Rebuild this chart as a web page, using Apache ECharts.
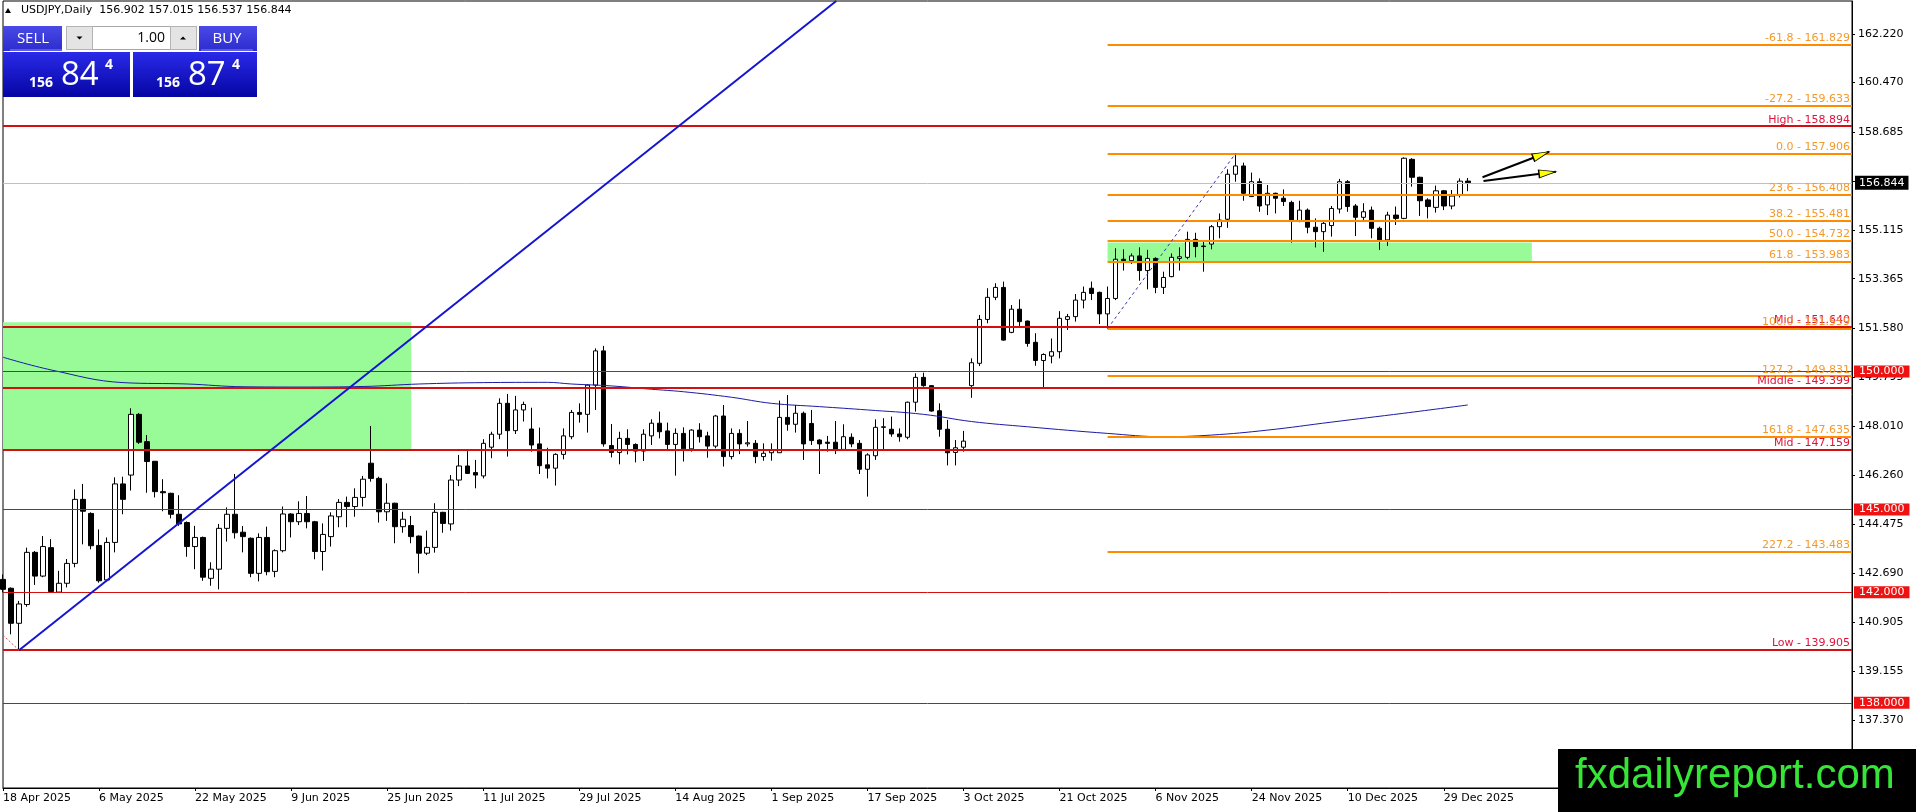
<!DOCTYPE html>
<html>
<head>
<meta charset="utf-8">
<title>USDJPY Daily</title>
<script src="https://cdn.jsdelivr.net/npm/echarts@6/dist/echarts.min.js"></script>
<style>
  html, body { margin: 0; padding: 0; background: #fff; }
  #chart { width: 1916px; height: 812px; }
</style>
</head>
<body>
<div id="chart"></div>
<script>
// daily bars, first bar = 18 Apr 2025 (12 bars per row)
const open = [
  142.47, 142.15, 140.88, 141.56, 143.45, 142.59, 143.62, 142.01, 142.33, 143.05, 145.37, 144.86,
  143.70, 142.45, 143.81, 145.93, 146.25, 148.45, 147.46, 146.75, 145.65, 145.59, 144.83, 144.53,
  143.66, 143.99, 142.51, 142.84, 144.32, 144.83, 144.18, 143.96, 142.69, 143.99, 142.76, 143.51,
  144.84, 144.56, 144.86, 144.56, 143.48, 144.02, 144.74, 145.26, 145.11, 145.44, 146.68, 146.13,
  144.92, 145.23, 144.38, 144.42, 144.04, 143.42, 143.63, 144.90, 144.48, 146.07, 146.58, 146.34,
  146.22, 147.26, 147.73, 148.85, 147.86, 148.61, 147.92, 147.38, 146.62, 146.50, 147.00, 147.64,
  148.52, 148.45, 149.51, 150.75, 147.32, 147.07, 147.58, 147.36, 147.12, 147.67, 148.13, 147.85,
  147.36, 147.76, 147.20, 147.88, 147.67, 147.30, 148.39, 146.92, 147.76, 147.38, 147.40, 146.92,
  147.06, 147.06, 148.34, 148.09, 148.49, 148.12, 147.52, 147.44, 147.44, 147.18, 147.62, 147.40,
  146.46, 146.95, 147.98, 147.91, 147.74, 147.62, 148.89, 149.79, 149.49, 148.58, 147.91, 147.07,
  147.26, 149.49, 150.30, 151.89, 152.69, 153.05, 151.42, 152.26, 151.83, 151.06, 150.40, 150.56,
  150.72, 151.89, 151.99, 152.59, 153.02, 152.87, 152.09, 152.65, 154.07, 154.02, 154.19, 153.66,
  154.10, 153.05, 153.44, 154.10, 154.14, 154.79, 154.53, 154.62, 155.25, 155.52, 157.15, 157.45,
  156.34, 156.88, 156.04, 156.46, 156.28, 156.13, 155.46, 155.85, 155.23, 155.07, 155.29, 155.89,
  156.88, 156.00, 155.59, 155.85, 155.19, 154.77, 155.67, 155.55, 157.69, 157.04, 156.22, 155.95,
  156.55, 156.00, 156.40, 156.902
];
const high = [
  142.65, 142.18, 141.69, 143.62, 143.50, 144.04, 143.93, 142.78, 143.21, 145.73, 145.93, 144.90,
  144.28, 143.99, 146.17, 146.19, 148.67, 148.50, 147.70, 146.76, 146.10, 145.61, 145.52, 144.57,
  144.41, 144.02, 143.09, 144.48, 145.08, 146.29, 144.40, 143.99, 144.14, 144.38, 143.56, 145.11,
  144.87, 145.30, 145.49, 144.59, 144.50, 144.90, 145.38, 145.47, 145.77, 146.22, 148.03, 146.19,
  145.95, 145.25, 144.92, 144.77, 144.06, 144.24, 145.23, 144.92, 146.25, 146.98, 147.13, 146.80,
  147.55, 147.82, 149.03, 149.19, 149.12, 148.91, 148.69, 147.97, 147.24, 147.04, 147.94, 148.61,
  148.85, 149.54, 150.84, 150.93, 148.10, 147.82, 147.91, 147.40, 147.91, 148.27, 148.55, 148.15,
  147.94, 147.98, 147.91, 148.13, 147.82, 148.43, 148.79, 147.94, 147.91, 148.21, 147.52, 147.40,
  147.40, 148.95, 149.15, 148.79, 148.55, 148.61, 147.55, 147.67, 148.21, 148.09, 147.76, 147.52,
  147.04, 148.27, 148.31, 148.37, 147.94, 148.91, 149.94, 149.96, 149.51, 148.85, 148.25, 147.52,
  147.85, 150.48, 152.05, 153.02, 153.20, 153.26, 152.41, 152.62, 151.85, 151.39, 150.66, 151.20,
  152.19, 152.09, 152.81, 153.08, 153.26, 152.90, 153.08, 154.47, 154.43, 154.28, 154.50, 154.41,
  154.14, 153.62, 154.28, 154.50, 155.07, 155.03, 154.71, 155.31, 155.73, 157.33, 157.906, 157.57,
  157.21, 157.00, 156.76, 156.48, 156.60, 156.19, 156.19, 155.91, 155.55, 155.43, 156.00, 156.98,
  156.94, 156.07, 156.10, 155.98, 155.25, 155.79, 155.98, 157.76, 157.73, 157.06, 156.28, 156.74,
  156.58, 156.58, 157.00, 157.015
];
const low = [
  142.00, 140.48, 139.905, 141.48, 142.27, 142.55, 141.99, 141.99, 142.18, 142.91, 143.74, 143.56,
  142.35, 142.39, 143.45, 144.83, 145.69, 147.38, 145.61, 145.44, 144.94, 144.68, 144.41, 143.29,
  142.84, 142.42, 142.24, 142.11, 143.84, 143.95, 143.45, 142.55, 142.40, 142.62, 142.55, 143.45,
  143.99, 144.44, 144.32, 143.20, 142.79, 143.66, 144.36, 144.36, 144.74, 145.11, 146.01, 144.53,
  144.59, 143.78, 144.16, 143.78, 142.69, 143.35, 143.44, 144.16, 144.24, 145.85, 146.29, 145.77,
  146.13, 146.86, 147.55, 146.92, 147.74, 148.19, 147.10, 146.29, 146.13, 145.87, 146.82, 147.55,
  148.15, 147.79, 148.61, 147.28, 146.89, 146.64, 147.00, 146.71, 146.76, 147.34, 147.58, 147.12,
  146.23, 146.74, 147.10, 147.43, 146.88, 147.22, 146.56, 146.82, 147.01, 147.28, 146.68, 146.77,
  146.77, 147.06, 147.86, 147.79, 146.80, 147.34, 146.29, 147.10, 147.01, 147.16, 147.26, 146.29,
  145.47, 146.80, 147.18, 147.64, 147.46, 147.55, 148.55, 149.45, 148.55, 147.64, 146.60, 146.60,
  147.10, 149.05, 150.20, 151.75, 152.59, 151.12, 151.39, 151.63, 150.90, 150.21, 149.43, 150.30,
  150.48, 151.51, 151.81, 152.29, 152.59, 151.72, 151.559, 152.59, 153.66, 153.90, 153.29, 152.98,
  152.84, 152.81, 153.42, 153.66, 154.07, 154.14, 153.62, 154.43, 154.83, 155.21, 156.88, 156.19,
  156.33, 155.79, 155.67, 155.73, 156.00, 154.67, 155.41, 155.01, 154.50, 154.34, 154.89, 155.73,
  155.79, 154.91, 155.46, 154.83, 154.41, 154.55, 155.31, 155.52, 156.70, 155.64, 155.55, 155.76,
  155.85, 155.88, 156.31, 156.537
];
const close = [
  142.11, 140.88, 141.58, 143.45, 142.59, 143.66, 142.03, 142.33, 143.05, 145.37, 144.94, 143.69,
  142.42, 143.81, 145.93, 145.37, 148.45, 147.44, 146.74, 145.65, 145.61, 144.83, 144.48, 143.66,
  143.99, 142.55, 142.84, 144.32, 144.83, 144.16, 144.02, 142.69, 143.99, 142.75, 143.51, 144.84,
  144.56, 144.86, 144.56, 143.48, 144.10, 144.77, 145.26, 145.11, 145.44, 146.10, 146.13, 144.92,
  145.23, 144.38, 144.65, 144.02, 143.42, 143.63, 144.90, 144.50, 146.07, 146.58, 146.31, 146.25,
  147.40, 147.73, 148.85, 147.86, 148.61, 148.81, 147.34, 146.59, 146.50, 147.00, 147.67, 148.52,
  148.45, 149.51, 150.75, 147.38, 147.07, 147.58, 147.36, 147.12, 147.73, 148.13, 147.82, 147.36,
  147.76, 147.20, 147.88, 147.64, 147.30, 148.39, 146.92, 147.76, 147.38, 147.42, 146.92, 147.04,
  147.16, 148.34, 148.09, 148.49, 147.38, 147.50, 147.38, 147.40, 147.18, 147.64, 147.38, 146.46,
  146.98, 147.98, 148.00, 147.74, 147.64, 148.89, 149.79, 149.49, 148.57, 147.91, 147.06, 147.24,
  147.48, 150.32, 151.89, 152.69, 153.05, 151.14, 152.26, 151.81, 151.02, 150.40, 150.62, 150.72,
  151.93, 151.99, 152.59, 152.87, 152.83, 152.09, 152.65, 154.07, 154.02, 154.19, 153.66, 154.10,
  153.05, 153.41, 154.14, 154.16, 154.79, 154.53, 154.55, 155.25, 155.49, 157.15, 157.45, 156.46,
  156.88, 156.00, 156.46, 156.28, 156.16, 155.47, 155.85, 155.23, 155.07, 155.37, 155.91, 156.88,
  155.98, 155.59, 155.79, 155.19, 154.77, 155.67, 155.55, 157.73, 157.04, 156.19, 155.98, 156.55,
  156.00, 156.36, 156.90, 156.844
];

// moving average (bar index -> price)
const maIdx = [0, 6, 15, 23, 30, 37, 45, 52, 60, 68, 71, 76, 81, 85, 91, 96, 102, 108, 115, 121, 128, 138, 145, 151, 158, 166, 175, 183];
const maVal = [150.52, 150.06, 149.60, 149.55, 149.45, 149.44, 149.46, 149.55, 149.60, 149.61, 149.55, 149.48, 149.36, 149.27, 149.07,
  148.85, 148.73, 148.61, 148.45, 148.19, 148.00, 147.76, 147.64, 147.70, 147.88, 148.17, 148.49, 148.79];

const startDate = '2025-04-18';
const holidays = ['2025-12-25', '2026-01-01'];
const slotCount = 232;   // bar slots across the plot, the right part is empty space

const yTicks = [137.370, 139.155, 140.905, 142.690, 144.475, 146.260, 148.010, 149.795, 151.580, 153.365, 155.115, 156.900, 158.685, 160.470, 162.220];

// horizontal objects
const redNames = ['High', 'Mid', 'Middle', 'Mid', 'Low'];
const redPrices = [158.894, 151.640, 149.399, 147.159, 139.905];
const roundPrices = [150.000, 145.000, 142.000, 138.000];
const fibRatios = ['-61.8', '-27.2', '0.0', '23.6', '38.2', '50.0', '61.8', '100.0', '127.2', '161.8', '227.2'];
const fibPrices = [161.829, 159.633, 157.906, 156.408, 155.481, 154.732, 153.983, 151.559, 149.831, 147.635, 143.483];
const fibFrom = [138, 151.559];
const fibTo = [154, 157.906];
const bid = 156.844, ask = 156.874;

// zones: [startIdx, endIdx, top, bottom]
const zones = [[0, 51, 151.785, 147.159], [138, 191, 154.68, 153.95]];
// trend line and the two arrows drawn by hand on the chart
const trendLine = [[2, 139.905], [104.1, 163.43]];
const lowTick = [[0, 140.45], [2, 139.905]];
const arrow1 = [[184.84, 157.039], [193.16, 157.966]];
const arrow2 = [[184.96, 156.905], [194.0, 157.242]];
const arrowHeads = [[192.17, 157.856, -69], [192.95, 157.202, -83]];

const RED = '#d40f0f';
const RED_TXT = '#dc143c';
const ORANGE = '#ff8c00';
const ORANGE_TXT = '#f39a2e';
const FONT = 'DejaVu Sans';
const MONTHS = ['Jan', 'Feb', 'Mar', 'Apr', 'May', 'Jun', 'Jul', 'Aug', 'Sep', 'Oct', 'Nov', 'Dec'];

function tradingDays(start, n) {
    const out = [];
    const d = new Date(start + 'T00:00:00Z');
    while (out.length < n) {
        const dow = d.getUTCDay();
        const iso = d.toISOString().slice(0, 10);
        if (dow !== 0 && dow !== 6 && holidays.indexOf(iso) < 0) {
            out.push(d.getUTCDate() + ' ' + MONTHS[d.getUTCMonth()] + ' ' + d.getUTCFullYear());
        }
        d.setUTCDate(d.getUTCDate() + 1);
    }
    return out;
}

const days = tradingDays(startDate, slotCount);
const nBars = open.length;
const candles = open.map((o, i) => [o, close[i], low[i], high[i]]);
const labelAt = (idx) => idx % 12 === 0 && idx < nBars;

// level lines
const levelLines = [];
redPrices.forEach((p, i) => {
    levelLines.push({
        yAxis: p,
        lineStyle: { color: RED, width: 2, type: 'solid' },
        label: { show: true, position: 'insideEndTop', distance: [2, 1], color: RED_TXT,
                 fontFamily: FONT, fontSize: 11, formatter: redNames[i] + ' - ' + p.toFixed(3) }
    });
});
roundPrices.forEach((p) => {
    levelLines.push({
        yAxis: p,
        lineStyle: { color: RED, width: 1, type: 'solid' },
        label: { show: true, position: 'end', distance: 2, color: '#fff', backgroundColor: '#ee1212',
                 padding: [1, 5, 0, 5], fontFamily: FONT, fontSize: 11, formatter: p.toFixed(3) }
    });
});
fibPrices.forEach((p, i) => {
    levelLines.push([
        { coord: [fibFrom[0], p],
          lineStyle: { color: ORANGE, width: 2, type: 'solid' },
          label: { show: true, position: 'insideEndTop', distance: [2, 1], color: ORANGE_TXT,
                   fontFamily: FONT, fontSize: 11, formatter: fibRatios[i] + ' - ' + p.toFixed(3) } },
        { coord: [slotCount - 1, p] }
    ]);
});
levelLines.push({
    yAxis: bid,
    lineStyle: { color: '#c0c0c0', width: 1, type: 'solid' },
    label: { show: true, position: 'end', distance: 3, color: '#fff', backgroundColor: '#000',
             padding: [2, 4, 1, 4], fontFamily: FONT, fontSize: 11, formatter: bid.toFixed(3) }
});

// trading panel in the top-left corner
function priceParts(v) {
    const s = v.toFixed(3);
    return [s.slice(0, 3), s.slice(4, 6), s.slice(6)];
}
const bidParts = priceParts(bid);
const askParts = priceParts(ask);
const btnFill = { type: 'linear', x: 0, y: 0, x2: 0, y2: 1,
    colorStops: [{ offset: 0, color: '#4a4ae6' }, { offset: 1, color: '#2c2cd0' }] };
const boxFill = { type: 'linear', x: 0, y: 0, x2: 0, y2: 1,
    colorStops: [{ offset: 0, color: '#2a2ae8' }, { offset: 1, color: '#0505a4' }] };
const last = nBars - 1;
const titleText = 'USDJPY,Daily  ' + [open[last], high[last], low[last], close[last]].map(v => v.toFixed(3)).join(' ');

const panel = [
    { type: 'polygon', shape: { points: [[5, 13], [11, 13], [8, 8]] }, style: { fill: '#000' } },
    { type: 'text', x: 21, y: 10, style: { text: titleText, font: '11px "DejaVu Sans"', fill: '#000', verticalAlign: 'middle' } },
    { type: 'rect', shape: { x: 3, y: 26, width: 59, height: 25 }, style: { fill: btnFill } },
    { type: 'line', shape: { x1: 10, y1: 50, x2: 62, y2: 50 }, style: { stroke: '#8a8af2', lineWidth: 1 } },
    { type: 'text', x: 33, y: 39, style: { text: 'SELL', font: '15px "Open Sans"', fill: '#fff', align: 'center', verticalAlign: 'middle' } },
    { type: 'rect', shape: { x: 66.5, y: 26.5, width: 130, height: 23 }, style: { fill: '#fff', stroke: '#a8a8a8', lineWidth: 1 } },
    { type: 'rect', shape: { x: 66.5, y: 26.5, width: 26, height: 23 }, style: { fill: '#e4e4e4', stroke: '#b4b4b4', lineWidth: 1 } },
    { type: 'rect', shape: { x: 170.5, y: 26.5, width: 26, height: 23 }, style: { fill: '#e4e4e4', stroke: '#b4b4b4', lineWidth: 1 } },
    { type: 'polygon', shape: { points: [[76.5, 36.5], [82.5, 36.5], [79.5, 39.5]] }, style: { fill: '#000' } },
    { type: 'polygon', shape: { points: [[180, 39.5], [186, 39.5], [183, 36.5]] }, style: { fill: '#000' } },
    { type: 'text', x: 165, y: 38, style: { text: '1.00', font: '14px "Open Sans"', fill: '#000', align: 'right', verticalAlign: 'middle' } },
    { type: 'rect', shape: { x: 199, y: 26, width: 58, height: 25 }, style: { fill: btnFill } },
    { type: 'line', shape: { x1: 201, y1: 50, x2: 253, y2: 50 }, style: { stroke: '#8a8af2', lineWidth: 1 } },
    { type: 'text', x: 227, y: 39, style: { text: 'BUY', font: '15px "Open Sans"', fill: '#fff', align: 'center', verticalAlign: 'middle' } },
    { type: 'rect', shape: { x: 3, y: 52, width: 127, height: 45 }, style: { fill: boxFill } },
    { type: 'rect', shape: { x: 133, y: 52, width: 124, height: 45 }, style: { fill: boxFill } },
    { type: 'text', x: 29, y: 83, style: { text: bidParts[0], font: 'bold 14px "Open Sans"', fill: '#fff', verticalAlign: 'middle' } },
    { type: 'text', x: 61, y: 76, style: { text: bidParts[1], font: '33px "Open Sans"', fill: '#fff', verticalAlign: 'middle' } },
    { type: 'text', x: 105, y: 65, style: { text: bidParts[2], font: 'bold 14px "Open Sans"', fill: '#fff', verticalAlign: 'middle' } },
    { type: 'text', x: 156, y: 83, style: { text: askParts[0], font: 'bold 14px "Open Sans"', fill: '#fff', verticalAlign: 'middle' } },
    { type: 'text', x: 188, y: 76, style: { text: askParts[1], font: '33px "Open Sans"', fill: '#fff', verticalAlign: 'middle' } },
    { type: 'text', x: 232, y: 65, style: { text: askParts[2], font: 'bold 14px "Open Sans"', fill: '#fff', verticalAlign: 'middle' } },
    // watermark box
    { type: 'rect', shape: { x: 1558, y: 749, width: 358, height: 63 }, style: { fill: '#000' } },
    { type: 'text', x: 1575, y: 776, style: { text: 'fxdailyreport.com', font: '42px "Liberation Sans"', fill: '#36e636', verticalAlign: 'middle' } }
];
panel.forEach(g => { g.z = 100; g.silent = true; });

var myChart = echarts.init(document.getElementById('chart'));
myChart.setOption({
    animation: false,
    backgroundColor: '#fff',
    textStyle: { fontFamily: FONT },
    grid: { left: 3, right: 64, top: 1, bottom: 24, show: true, borderColor: '#000', borderWidth: 1, backgroundColor: '#fff' },
    xAxis: [{
        type: 'category',
        data: days,
        boundaryGap: false,
        axisLine: { show: true, onZero: false, lineStyle: { color: '#000', width: 1 } },
        axisTick: { show: true, length: 3, interval: labelAt, lineStyle: { color: '#000' } },
        axisLabel: { interval: labelAt, align: 'left', margin: 5, color: '#000', fontFamily: FONT, fontSize: 11 },
        splitLine: { show: false }
    }, {
        type: 'value',
        min: 0,
        max: slotCount - 1,
        show: false,
        axisLine: { onZero: false },
        splitLine: { show: false }
    }],
    yAxis: {
        type: 'value',
        position: 'right',
        min: 134.912,
        max: 163.427,
        axisLine: { show: true, onZero: false, lineStyle: { color: '#000', width: 1 } },
        axisTick: { show: true, length: 3, lineStyle: { color: '#000' }, customValues: yTicks },
        axisLabel: { margin: 6, color: '#000', fontFamily: FONT, fontSize: 11, customValues: yTicks,
                     formatter: (v) => v.toFixed(3) },
        splitLine: { show: false }
    },
    graphic: panel,
    series: [
        {
            name: 'zones', type: 'line', data: [], z: 1, silent: true,
            markArea: {
                silent: true,
                itemStyle: { color: '#98fb98', opacity: 1 },
                data: zones.map(z => [{ coord: [z[0], z[2]] }, { coord: [z[1], z[3]] }])
            }
        },
        {
            name: 'USDJPY', type: 'candlestick', data: candles, z: 2, barWidth: 5,
            itemStyle: { color: '#fff', color0: '#000', borderColor: '#000', borderColor0: '#000', borderWidth: 1 }
        },
        {
            name: 'MA', type: 'line', xAxisIndex: 1, z: 3, smooth: 0.4, symbol: 'none',
            lineStyle: { color: '#1a1aa6', width: 1 },
            data: maIdx.map((k, i) => [k, maVal[i]])
        },
        {
            name: 'levels', type: 'line', data: [], z: 4, clip: false,
            markLine: { silent: true, symbol: ['none', 'none'], animation: false, data: levelLines }
        },
        {
            name: 'trend', type: 'line', xAxisIndex: 1, z: 5, symbol: 'none',
            lineStyle: { color: '#1414d2', width: 2 }, data: trendLine
        },
        {
            name: 'fibLine', type: 'line', xAxisIndex: 1, z: 5, symbol: 'none',
            lineStyle: { color: '#3434b8', width: 1, type: [3, 3] }, data: [fibFrom, fibTo]
        },
        {
            name: 'lowTick', type: 'line', xAxisIndex: 1, z: 5, symbol: 'none',
            lineStyle: { color: '#e04848', width: 1, type: [2, 2] }, data: lowTick
        },
        {
            name: 'arrow1', type: 'line', xAxisIndex: 1, z: 6, symbol: 'none', clip: false,
            lineStyle: { color: '#000', width: 2 }, data: arrow1
        },
        {
            name: 'arrow2', type: 'line', xAxisIndex: 1, z: 6, symbol: 'none', clip: false,
            lineStyle: { color: '#000', width: 2 }, data: arrow2
        },
        {
            name: 'heads', type: 'scatter', xAxisIndex: 1, z: 7, symbol: 'triangle', symbolSize: [8, 17],
            symbolRotate: (v) => v[2],
            itemStyle: { color: '#ffff00', borderColor: '#000', borderWidth: 1, opacity: 1 },
            data: arrowHeads
        }
    ]
});
</script>
</body>
</html>
